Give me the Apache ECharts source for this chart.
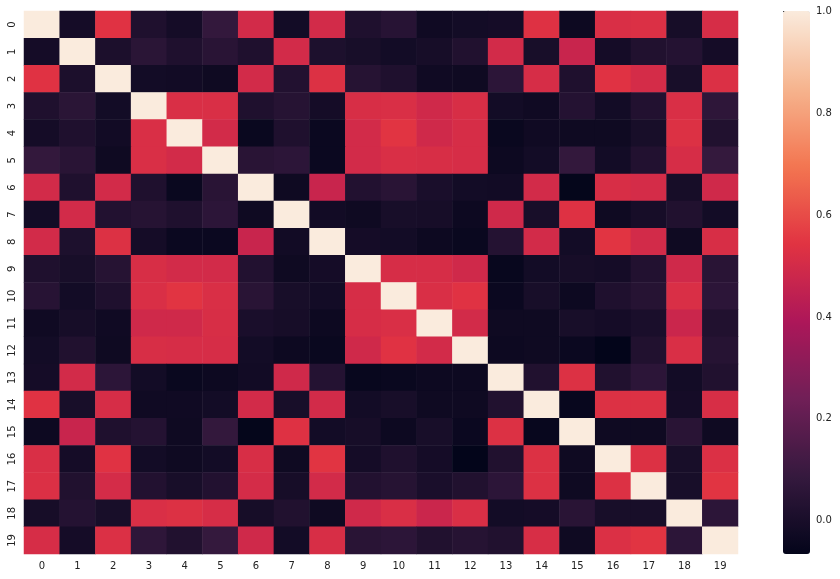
<!DOCTYPE html>
<html>
<head>
<meta charset="utf-8">
<script src="https://cdn.jsdelivr.net/npm/echarts@6/dist/echarts.min.js"></script>
<style>
  html, body { margin: 0; padding: 0; background: #fff; }
  #main { width: 840px; height: 579px; }
</style>
</head>
<body>
<div id="main"></div>
<script>
  // tick labels for both axes
  var labels = ['0', '1', '2', '3', '4', '5', '6', '7', '8', '9',
    '10', '11', '12', '13', '14', '15', '16', '17', '18', '19'];

  // correlation matrix, one row per y label
  var row0 = [1, -0.01, 0.54, 0.02, -0.01, 0.08, 0.50, -0.015, 0.50, 0.02, 0.045, -0.025, -0.015, -0.01, 0.535, -0.035, 0.52, 0.525, -0.005, 0.51];
  var row1 = [-0.01, 1, 0.01, 0.055, 0.02, 0.05, 0.02, 0.50, 0.015, 0.0, -0.015, -0.005, 0.025, 0.50, 0.0, 0.47, -0.01, 0.025, 0.035, -0.01];
  var row2 = [0.54, 0.01, 1, -0.015, -0.02, -0.03, 0.50, 0.03, 0.53, 0.04, 0.02, -0.025, -0.03, 0.06, 0.51, 0.02, 0.54, 0.505, 0.0, 0.525];
  var row3 = [0.02, 0.055, -0.015, 1, 0.52, 0.52, 0.02, 0.04, -0.01, 0.515, 0.52, 0.49, 0.515, -0.015, -0.025, 0.035, -0.015, 0.03, 0.52, 0.065];
  var row4 = [-0.01, 0.02, -0.02, 0.52, 1, 0.50, -0.045, 0.02, -0.04, 0.50, 0.545, 0.49, 0.51, -0.045, -0.025, -0.03, -0.03, 0.0, 0.53, 0.025];
  var row5 = [0.08, 0.05, -0.03, 0.52, 0.50, 1, 0.05, 0.06, -0.04, 0.50, 0.52, 0.515, 0.51, -0.035, -0.015, 0.08, -0.015, 0.03, 0.51, 0.085];
  var row6 = [0.50, 0.02, 0.50, 0.02, -0.045, 0.05, 1, -0.03, 0.47, 0.03, 0.05, 0.005, -0.015, -0.02, 0.50, -0.06, 0.515, 0.505, -0.005, 0.49];
  var row7 = [-0.015, 0.50, 0.03, 0.04, 0.02, 0.06, -0.03, 1, -0.02, -0.03, 0.0, -0.005, -0.035, 0.49, 0.0, 0.535, -0.03, -0.005, 0.025, -0.015];
  var row8 = [0.50, 0.015, 0.53, -0.01, -0.04, -0.04, 0.47, -0.02, 1, -0.01, -0.015, -0.035, -0.045, 0.035, 0.50, -0.015, 0.545, 0.50, -0.03, 0.515];
  var row9 = [0.02, 0.0, 0.04, 0.515, 0.50, 0.50, 0.03, -0.03, -0.01, 1, 0.51, 0.51, 0.49, -0.05, -0.015, -0.005, -0.01, 0.03, 0.49, 0.05];
  var row10 = [0.045, -0.015, 0.02, 0.52, 0.545, 0.52, 0.05, 0.0, -0.015, 0.51, 1, 0.52, 0.54, -0.04, 0.0, -0.035, 0.02, 0.04, 0.52, 0.06];
  var row11 = [-0.025, -0.005, -0.025, 0.49, 0.49, 0.515, 0.005, -0.005, -0.035, 0.51, 0.52, 1, 0.50, -0.03, -0.03, 0.0, -0.01, 0.005, 0.475, 0.025];
  var row12 = [-0.015, 0.025, -0.03, 0.515, 0.51, 0.51, -0.015, -0.035, -0.045, 0.49, 0.54, 0.50, 1, -0.035, -0.03, -0.04, -0.065, 0.025, 0.52, 0.04];
  var row13 = [-0.01, 0.50, 0.06, -0.015, -0.045, -0.035, -0.02, 0.49, 0.035, -0.05, -0.045, -0.035, -0.035, 1, 0.025, 0.53, 0.025, 0.06, -0.015, 0.025];
  var row14 = [0.54, 0.0, 0.51, -0.025, -0.025, -0.015, 0.50, 0.0, 0.50, -0.015, 0.0, -0.03, -0.03, 0.025, 1, -0.05, 0.53, 0.53, -0.01, 0.515];
  var row15 = [-0.035, 0.47, 0.02, 0.035, -0.03, 0.08, -0.06, 0.535, -0.015, -0.005, -0.035, 0.0, -0.04, 0.53, -0.05, 1, -0.03, -0.03, 0.05, -0.03];
  var row16 = [0.52, -0.01, 0.54, -0.015, -0.03, -0.015, 0.515, -0.03, 0.545, -0.01, 0.02, -0.01, -0.065, 0.025, 0.53, -0.03, 1, 0.53, 0.0, 0.525];
  var row17 = [0.525, 0.025, 0.505, 0.03, 0.0, 0.03, 0.505, -0.005, 0.50, 0.03, 0.04, 0.005, 0.025, 0.06, 0.53, -0.03, 0.53, 1, 0.0, 0.545];
  var row18 = [-0.005, 0.035, 0.0, 0.52, 0.53, 0.51, -0.005, 0.025, -0.03, 0.49, 0.52, 0.475, 0.52, -0.015, -0.01, 0.05, 0.0, 0.0, 1, 0.06];
  var row19 = [0.51, -0.01, 0.525, 0.065, 0.025, 0.085, 0.49, -0.015, 0.515, 0.05, 0.06, 0.025, 0.04, 0.025, 0.515, -0.03, 0.525, 0.545, 0.06, 1];
  var rows = [row0, row1, row2, row3, row4, row5, row6, row7, row8, row9,
    row10, row11, row12, row13, row14, row15, row16, row17, row18, row19];

  // colorbar range and its tick labels
  var vmin = -0.065;
  var vmax = 1.0;
  var cbarTicks = [0.0, 0.2, 0.4, 0.6, 0.8, 1.0];

  // seaborn "rocket" colormap, evenly spaced stops
  var rocket = ['#03051a', '#35193e', '#701f57', '#ad1759', '#e13342', '#f37651', '#f6b48e', '#faebdd'];

  var cells = [];
  rows.forEach(function (r, y) {
    r.forEach(function (v, x) {
      cells.push([x, y, v]);
    });
  });

  var textColor = '#222';
  var font = 'DejaVu Sans';

  var myChart = echarts.init(document.getElementById('main'));
  var option = {
    animation: false,
    textStyle: { fontFamily: font },
    grid: [
      { left: 24, right: 102, top: 11, bottom: 25 },
      { left: 783, width: 27, top: 11, height: 543 }
    ],
    xAxis: [
      {
        type: 'category',
        data: labels,
        gridIndex: 0,
        axisLine: { show: false },
        axisTick: { alignWithLabel: true, length: 3.5, interval: 0, lineStyle: { color: textColor } },
        axisLabel: { interval: 0, margin: 7, color: textColor, fontSize: 10, fontFamily: font },
        splitLine: { show: false }
      },
      {
        type: 'value',
        gridIndex: 1,
        show: false
      }
    ],
    yAxis: [
      {
        type: 'category',
        data: labels,
        inverse: true,
        gridIndex: 0,
        axisLine: { show: false },
        axisTick: { alignWithLabel: true, length: 3.5, interval: 0, lineStyle: { color: textColor } },
        axisLabel: { interval: 0, rotate: 90, margin: 7, color: textColor, fontSize: 10, fontFamily: font },
        splitLine: { show: false }
      },
      {
        // axis that carries the colorbar ticks
        type: 'value',
        gridIndex: 1,
        position: 'right',
        min: vmin,
        max: vmax,
        axisLine: { show: false },
        splitLine: { show: false },
        axisTick: { show: true, length: 3.5, customValues: cbarTicks, lineStyle: { color: textColor } },
        axisLabel: {
          customValues: cbarTicks,
          margin: 6,
          color: textColor,
          fontSize: 10,
          fontFamily: font,
          formatter: function (v) { return v.toFixed(1); }
        }
      }
    ],
    visualMap: {
      type: 'continuous',
      min: vmin,
      max: vmax,
      calculable: false,
      left: 783,
      top: 11,
      itemWidth: 27,
      itemHeight: 543,
      padding: 0,
      text: ['', ''],
      textGap: 0,
      seriesIndex: 0,
      inRange: { color: rocket }
    },
    series: [
      {
        type: 'heatmap',
        xAxisIndex: 0,
        yAxisIndex: 0,
        data: cells,
        emphasis: { disabled: true }
      },
      {
        type: 'scatter',
        xAxisIndex: 1,
        yAxisIndex: 1,
        data: [],
        silent: true
      }
    ]
  };
  myChart.setOption(option);
</script>
</body>
</html>
